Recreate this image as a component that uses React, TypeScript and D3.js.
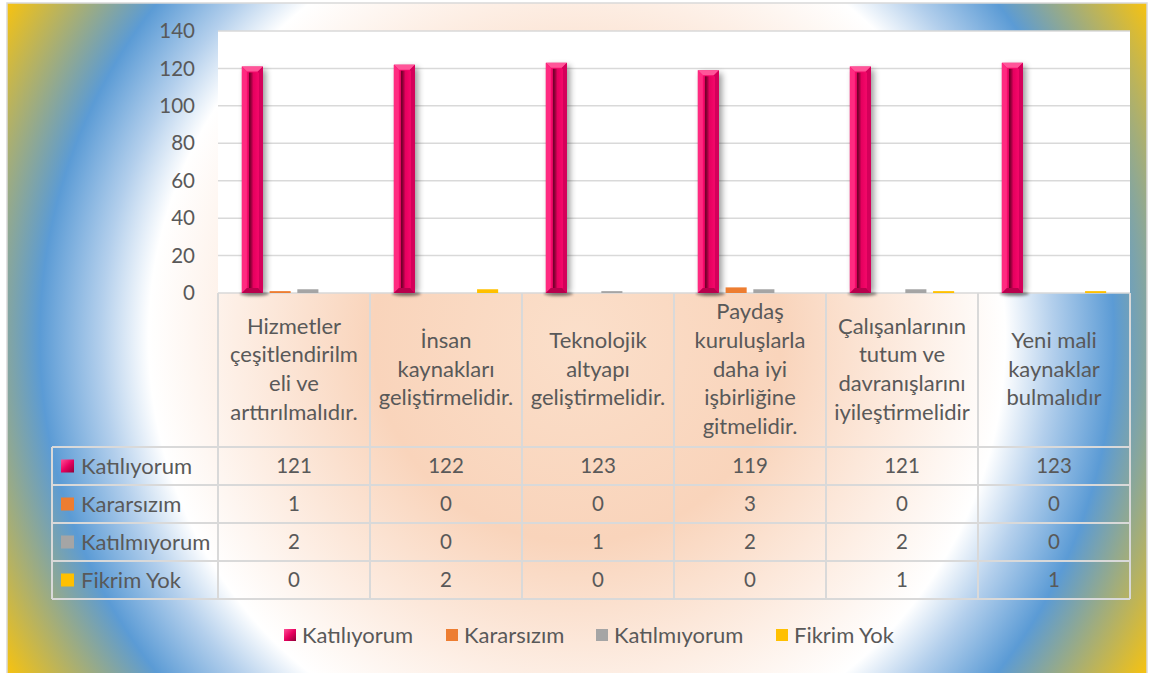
import React from "react";
import * as d3 from "d3";

const categoryLines: string[][] = [
  ["Hizmetler", "çeşitlendirilm", "eli ve", "arttırılmalıdır."],
  ["İnsan", "kaynakları", "geliştirmelidir."],
  ["Teknolojik", "altyapı", "geliştirmelidir."],
  ["Paydaş", "kuruluşlarla", "daha iyi", "işbirliğine", "gitmelidir."],
  ["Çalışanlarının", "tutum ve", "davranışlarını", "iyileştirmelidir"],
  ["Yeni mali", "kaynaklar", "bulmalıdır"],
];
const seriesNames = ["Katılıyorum", "Kararsızım", "Katılmıyorum", "Fikrim Yok"];
const katiliyorum = [121, 122, 123, 119, 121, 123];
const kararsizim = [1, 0, 0, 3, 0, 0];
const katilmiyorum = [2, 0, 1, 2, 2, 0];
const fikrimYok = [0, 2, 0, 0, 1, 1];
const yTicks = [0, 20, 40, 60, 80, 100, 120, 140];

const seriesValues = [katiliyorum, kararsizim, katilmiyorum, fikrimYok];
const seriesColors = ["#f5086a", "#ed7d31", "#a5a5a5", "#ffc000"];

const FONT = "Lato, 'Open Sans', sans-serif";
const TXT = "#595959";
const GRID = "#d9d9d9";

const W = 1152;
const H = 673;
const plotL = 218;
const plotR = 1130;
const plotT = 31;
const plotB = 293;
const tableL = 52;
const headerB = 447;
const rowH = 38;
const fsNum = 20.5;
const fsTxt = 22;

export default function App() {
  const idx = categoryLines.map((_, i) => String(i));
  const x = d3.scaleBand<string>().domain(idx).range([plotL, plotR]).padding(0);
  const xs = d3
    .scaleBand<string>()
    .domain(seriesNames)
    .range([0, x.bandwidth()])
    .paddingInner(0.24)
    .paddingOuter(0.86);
  const y = d3.scaleLinear().domain([0, 140]).range([plotB, plotT]);
  const bw = xs.bandwidth();

  const pinkBar = (bx: number, by: number, w: number, h: number, key: string) => {
    const b = 5;
    return (
      <g key={key}>
        <rect x={bx + 3} y={by + 3} width={w} height={h - 3} fill="#000" opacity={0.4} filter="url(#shadow)" />
        <ellipse cx={bx + w / 2 + 2} cy={plotB + 1} rx={w / 2 + 4} ry={2} fill="#000" opacity={0.35} filter="url(#shadow2)" />
        <rect x={bx} y={by} width={w} height={h} fill="#f5086a" />
        <polygon points={`${bx},${by} ${bx + w},${by} ${bx + w - b},${by + b} ${bx + b},${by + b}`} fill="#ff5599" />
        <polygon points={`${bx},${by} ${bx + b},${by + b} ${bx + b},${by + h - b} ${bx},${by + h}`} fill="#ff2a80" />
        <polygon points={`${bx + w},${by} ${bx + w},${by + h} ${bx + w - b},${by + h - b} ${bx + w - b},${by + b}`} fill="#d4005a" />
        <polygon points={`${bx},${by + h} ${bx + w},${by + h} ${bx + w - b},${by + h - b} ${bx + b},${by + h - b}`} fill="#b8004c" />
        <rect x={bx + 7} y={by + b + 1} width={w - 11} height={h - 2 * b - 1} fill="url(#inner)" />
      </g>
    );
  };

  const rowsY = seriesNames.map((_, i) => headerB + i * rowH);
  const tableB = headerB + seriesNames.length * rowH;

  const legendItems = [
    { x: 284, name: seriesNames[0] },
    { x: 446, name: seriesNames[1] },
    { x: 596, name: seriesNames[2] },
    { x: 776, name: seriesNames[3] },
  ];

  return (
    <svg width={W} height={H} style={{ position: "absolute", left: 0, top: 0 }} fontFamily={FONT}>
      <defs>
        <radialGradient id="bg" gradientUnits="userSpaceOnUse" cx={577} cy={338} r={680}>
          <stop offset="0" stopColor="#fbdfca" />
          <stop offset="0.3" stopColor="#f9d4bb" />
          <stop offset="0.5" stopColor="#fdeee4" />
          <stop offset="0.63" stopColor="#ffffff" />
          <stop offset="0.70" stopColor="#b3cfec" />
          <stop offset="0.79" stopColor="#5b9bd5" />
          <stop offset="0.97" stopColor="#f5c212" />
          <stop offset="1" stopColor="#f5c212" />
        </radialGradient>
        <linearGradient id="inner" x1="0" x2="1" y1="0" y2="0">
          <stop offset="0" stopColor="#6b0026" />
          <stop offset="0.2" stopColor="#8f0038" />
          <stop offset="0.45" stopColor="#e6005f" />
          <stop offset="1" stopColor="#f5086a" />
        </linearGradient>
        <linearGradient id="legPink" x1="0" x2="1" y1="0" y2="1">
          <stop offset="0" stopColor="#ff4f97" />
          <stop offset="0.5" stopColor="#e8005f" />
          <stop offset="1" stopColor="#8f0038" />
        </linearGradient>
        <filter id="shadow" x="-1" y="-0.2" width="3" height="1.4">
          <feGaussianBlur stdDeviation="3" />
        </filter>
        <filter id="shadow2" x="-1" y="-2" width="3" height="5">
          <feGaussianBlur stdDeviation="1.2" />
        </filter>
      </defs>

      <rect x={7} y={3} width={1140} height={720} fill="url(#bg)" stroke={GRID} strokeWidth={1.5} />

      {/* plot area */}
      <rect x={plotL} y={plotT} width={plotR - plotL} height={plotB - plotT} fill="#fff" />
      {yTicks.map((t) => (
        <g key={t}>
          <line x1={plotL} x2={plotR} y1={y(t)} y2={y(t)} stroke={GRID} strokeWidth={1.5} />
          <text x={195} y={y(t)} dy="0.35em" textAnchor="end" fontSize={fsNum} fill={TXT}>
            {t}
          </text>
        </g>
      ))}

      {/* bars */}
      {seriesValues.map((vals, si) =>
        vals.map((v, ci) => {
          if (v <= 0) return null;
          const bx = (x(String(ci)) as number) + (xs(seriesNames[si]) as number);
          const by = y(v);
          const h = y(0) - by;
          if (si === 0) return pinkBar(bx, by, bw, h, `b${si}-${ci}`);
          return <rect key={`b${si}-${ci}`} x={bx} y={by} width={bw} height={h} fill={seriesColors[si]} />;
        })
      )}

      {/* table grid */}
      <g stroke={GRID} strokeWidth={2} fill="none">
        {idx.map((k) => (
          <line key={k} x1={x(k)} x2={x(k)} y1={plotB} y2={tableB} />
        ))}
        <line x1={plotR} x2={plotR} y1={plotB} y2={tableB} />
        <line x1={tableL} x2={tableL} y1={headerB} y2={tableB} />
        {[...rowsY, tableB].map((ry, i) => (
          <line key={i} x1={tableL} x2={plotR} y1={ry} y2={ry} />
        ))}
      </g>

      {/* category labels */}
      {categoryLines.map((lines, ci) => {
        const cx = (x(String(ci)) as number) + x.bandwidth() / 2;
        const cy = (plotB + headerB) / 2 - 1;
        const lh = 28.7;
        return (
          <text key={ci} textAnchor="middle" fontSize={fsTxt} fill={TXT}>
            {lines.map((l, li) => (
              <tspan key={li} x={cx} y={cy + (li - (lines.length - 1) / 2) * lh} dy="0.35em">
                {l}
              </tspan>
            ))}
          </text>
        );
      })}

      {/* row headers and values */}
      {seriesNames.map((name, si) => {
        const cy = rowsY[si] + rowH / 2;
        return (
          <g key={name}>
            <rect x={61} y={cy - 6.5} width={13} height={13} fill={si === 0 ? "url(#legPink)" : seriesColors[si]} />
            <text x={81} y={cy} dy="0.35em" fontSize={fsTxt} fill={TXT}>
              {name}
            </text>
            {seriesValues[si].map((v, ci) => (
              <text
                key={ci}
                x={(x(String(ci)) as number) + x.bandwidth() / 2}
                y={cy}
                dy="0.35em"
                textAnchor="middle"
                fontSize={fsNum}
                fill={TXT}
              >
                {v}
              </text>
            ))}
          </g>
        );
      })}

      {/* legend */}
      {legendItems.map((it, i) => (
        <g key={it.name}>
          <rect x={it.x} y={629} width={12} height={12} fill={i === 0 ? "url(#legPink)" : seriesColors[i]} />
          <text x={it.x + 18} y={635} dy="0.35em" fontSize={fsTxt} fill={TXT}>
            {it.name}
          </text>
        </g>
      ))}
    </svg>
  );
}
